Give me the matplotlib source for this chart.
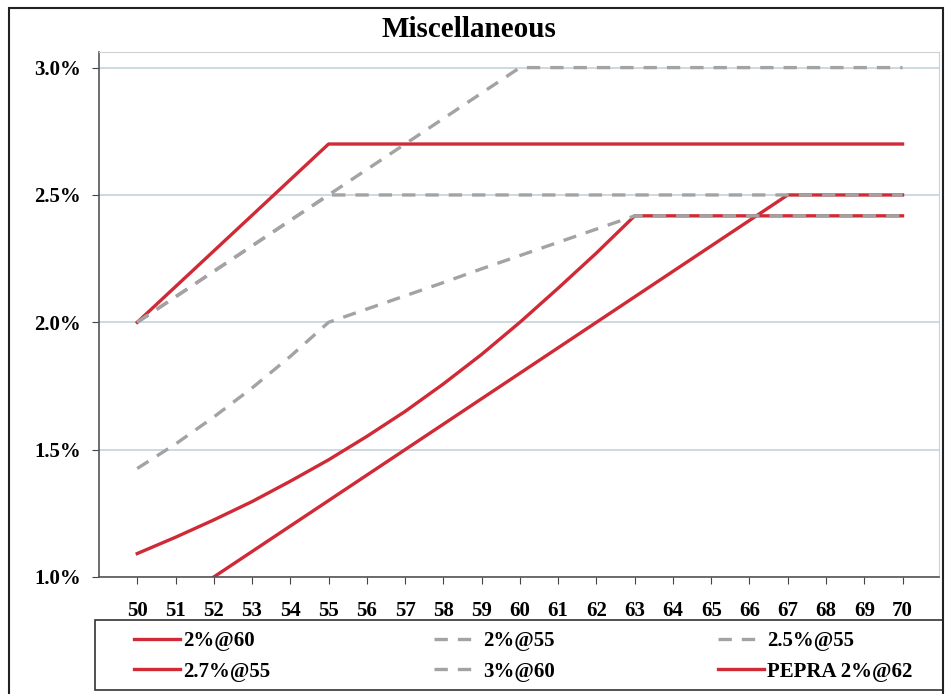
import matplotlib.pyplot as plt
from matplotlib.ticker import FuncFormatter

plt.rcParams['font.family'] = ['Liberation Serif', 'DejaVu Serif']
plt.rcParams['font.weight'] = 'bold'

ages = list(range(50, 71))

# benefit factor (% of pay per year of service) by retirement age
misc_2_at_60 = [1.092, 1.156, 1.224, 1.296, 1.376, 1.460, 1.552, 1.650, 1.758, 1.874,
                2.000, 2.134, 2.272, 2.418, 2.418, 2.418, 2.418, 2.418, 2.418, 2.418, 2.418]
misc_2_at_55 = [1.426, 1.522, 1.628, 1.742, 1.866, 2.000, 2.052, 2.104, 2.156, 2.210,
                2.262, 2.314, 2.366, 2.418, 2.418, 2.418, 2.418, 2.418, 2.418, 2.418, 2.418]
misc_25_at_55 = [2.0, 2.1, 2.2, 2.3, 2.4, 2.5, 2.5, 2.5, 2.5, 2.5,
                 2.5, 2.5, 2.5, 2.5, 2.5, 2.5, 2.5, 2.5, 2.5, 2.5, 2.5]
misc_27_at_55 = [2.0, 2.14, 2.28, 2.42, 2.56, 2.7, 2.7, 2.7, 2.7, 2.7,
                 2.7, 2.7, 2.7, 2.7, 2.7, 2.7, 2.7, 2.7, 2.7, 2.7, 2.7]
misc_3_at_60 = [2.0, 2.1, 2.2, 2.3, 2.4, 2.5, 2.6, 2.7, 2.8, 2.9,
                3.0, 3.0, 3.0, 3.0, 3.0, 3.0, 3.0, 3.0, 3.0, 3.0, 3.0]
pepra_ages = list(range(52, 71))
pepra_2_at_62 = [1.0, 1.1, 1.2, 1.3, 1.4, 1.5, 1.6, 1.7, 1.8, 1.9,
                 2.0, 2.1, 2.2, 2.3, 2.4, 2.5, 2.5, 2.5, 2.5]

red = '#cf2a36'
gray = '#a3a3a3'
dash = (0, (4, 3))

fig = plt.figure(figsize=(9.48, 6.94), dpi=100)
ax = fig.add_axes([0.1044, 0.1686, 0.886, 0.756])

l1, = ax.plot(ages, misc_2_at_60, color=red, lw=2.4, label='2%@60')
l4, = ax.plot(ages, misc_27_at_55, color=red, lw=2.4, label='2.7%@55')
l6, = ax.plot(pepra_ages, pepra_2_at_62, color=red, lw=2.4, label='PEPRA 2%@62')
l2, = ax.plot(ages, misc_2_at_55, color=gray, lw=2.4, ls=dash, label='2%@55')
l3, = ax.plot(ages, misc_25_at_55, color=gray, lw=2.4, ls=dash, label='2.5%@55')
l5, = ax.plot(ages, misc_3_at_60, color=gray, lw=2.4, ls=dash, label='3%@60')

ax.set_xlim(49, 70.95)
ax.set_ylim(1.0, 3.06)
ax.set_xticks(ages)
ax.set_yticks([1.0, 1.5, 2.0, 2.5, 3.0])
ax.yaxis.set_major_formatter(FuncFormatter(lambda v, p: f'{v:.1f}%'))
ax.tick_params(labelsize=15, direction='out', length=5, color='#444444')
ax.tick_params(axis='x', pad=12)
ax.tick_params(axis='y', pad=8)
ax.grid(axis='y', color='#c5d3dc', lw=1.2)
ax.set_axisbelow(True)

for side in ['top', 'right']:
    ax.spines[side].set_color('#d0d0d0')
for side in ['left', 'bottom']:
    ax.spines[side].set_color('#555555')
    ax.spines[side].set_linewidth(1.2)

fig.suptitle('Miscellaneous', x=0.495, y=0.957, va='center', fontsize=21, fontweight='bold')

# legend box below the axis, entries laid out row by row
fig.add_artist(plt.Rectangle((0.1, 0.006), 0.895, 0.101, transform=fig.transFigure,
                             fill=False, edgecolor='#333333', lw=1.2))
order = [l1, l4, l2, l5, l3, l6]
fig.legend(order, [h.get_label() for h in order],
           ncol=3, loc='lower left', bbox_to_anchor=(0.137, 0.012, 0.83, 0.09),
           mode='expand', fontsize=15, frameon=False,
           handlelength=2.2, handletextpad=0.15,
           borderaxespad=0, borderpad=0.2, labelspacing=0.5)

# outer frame around the whole chart
fig.add_artist(plt.Rectangle((0.009, -0.01), 0.986, 0.998, transform=fig.transFigure,
                             fill=False, edgecolor='#222222', lw=1.5))

fig.savefig('out.png', dpi=100)
